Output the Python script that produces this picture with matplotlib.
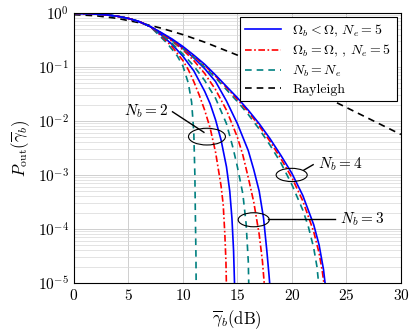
import numpy as np
import matplotlib.pyplot as plt
from matplotlib.patches import Ellipse

plt.rcParams['font.family'] = 'serif'
plt.rcParams['font.serif'] = ['cmr10']
plt.rcParams['mathtext.fontset'] = 'cm'
plt.rcParams['axes.formatter.use_mathtext'] = True

# values, log10 of P_out vs SNR in dB
snr_head = [0, 1, 2, 3, 4, 5, 6, 7]
log_head = [-0.005, -0.01, -0.02, -0.035, -0.06, -0.1, -0.16, -0.25]

# N_b = 2
x2_blue = [8, 9, 10, 11, 12, 12.5, 13, 13.5, 14, 14.3, 14.5, 14.65, 14.75]
y2_blue = [-0.4, -0.58, -0.8, -1.07, -1.45, -1.68, -1.98, -2.35, -2.85, -3.3, -3.8, -4.4, -5.1]
x2_red = [8, 9, 10, 10.5, 11, 11.5, 12, 12.5, 13, 13.5, 13.7, 13.85, 13.95, 14.0]
y2_red = [-0.42, -0.62, -0.88, -1.05, -1.27, -1.52, -1.8, -2.13, -2.58, -3.2, -3.55, -4.1, -4.6, -5.1]
x2_teal = [8, 8.5, 9, 9.5, 10, 10.5, 10.8, 11.0, 11.1, 11.15, 11.2, 11.22]
y2_teal = [-0.45, -0.55, -0.67, -0.8, -0.98, -1.3, -1.65, -2.2, -3.0, -3.8, -4.5, -5.1]

# N_b = 3
x3_blue = [8, 9, 10, 11, 12, 13, 14, 15, 16, 16.5, 17, 17.4, 17.7, 17.9, 18.0]
y3_blue = [-0.37, -0.5, -0.65, -0.83, -1.03, -1.27, -1.63, -2.05, -2.55, -2.9, -3.3, -3.8, -4.4, -4.85, -5.1]
x3_red = [8, 9, 10, 11, 12, 13, 14, 15, 15.5, 16, 16.5, 17, 17.3, 17.5]
y3_red = [-0.38, -0.52, -0.68, -0.88, -1.12, -1.42, -1.8, -2.3, -2.63, -3.05, -3.5, -4.1, -4.6, -5.1]
x3_teal = [8, 9, 10, 11, 12, 13, 14, 14.6, 15, 15.5, 15.8, 16.0, 16.05]
y3_teal = [-0.4, -0.56, -0.76, -0.98, -1.25, -1.58, -2.05, -2.5, -2.85, -3.35, -3.9, -4.6, -5.1]

# N_b = 4
x4_blue = [8, 9, 10, 11, 12, 13, 14, 15, 16, 17, 18, 19, 20, 21, 22, 22.5, 22.9, 23.1]
y4_blue = [-0.36, -0.48, -0.62, -0.78, -0.95, -1.15, -1.36, -1.57, -1.8, -2.05, -2.33, -2.64, -2.97, -3.38, -3.92, -4.3, -4.75, -5.1]
x4_red = [8, 9, 10, 11, 12, 13, 14, 15, 16, 17, 18, 19, 20, 21, 22, 22.5, 22.8, 23.0]
y4_red = [-0.37, -0.5, -0.64, -0.8, -0.97, -1.17, -1.38, -1.6, -1.83, -2.09, -2.38, -2.7, -3.05, -3.48, -4.05, -4.45, -4.8, -5.1]
x4_teal = [8, 9, 10, 11, 12, 13, 14, 15, 16, 17, 18, 19, 20, 21, 21.5, 22, 22.3, 22.5]
y4_teal = [-0.38, -0.51, -0.66, -0.82, -1.0, -1.2, -1.42, -1.64, -1.88, -2.15, -2.45, -2.78, -3.18, -3.65, -3.95, -4.35, -4.7, -5.1]

# Rayleigh
x_ray = [0, 2, 4, 6, 8, 10, 12, 14, 16, 18, 20, 22, 24, 26, 28, 30]
y_ray = [-0.03, -0.05, -0.1, -0.18, -0.28, -0.4, -0.54, -0.7, -0.86, -1.03, -1.22, -1.45, -1.65, -1.85, -2.05, -2.25]

labels = [r'$\Omega_b < \Omega$, $N_e = 5$', r'$\Omega_b = \Omega$, , $N_e = 5$',
          r'$N_b = N_e$', 'Rayleigh']


def curve(xs, ys):
    return np.array(snr_head + xs), 10.0 ** np.array(log_head + ys)


fig = plt.figure(figsize=(4.15, 3.34), dpi=100)
ax = fig.add_axes([0.178, 0.153, 0.788, 0.808])

lw = 1.2
ax.plot(x_ray, 10.0 ** np.array(y_ray), color='black', ls=(0, (4, 3)), lw=lw, label=labels[3])
for (xb, yb, xr, yr, xt, yt) in [(x2_blue, y2_blue, x2_red, y2_red, x2_teal, y2_teal),
                                 (x3_blue, y3_blue, x3_red, y3_red, x3_teal, y3_teal),
                                 (x4_blue, y4_blue, x4_red, y4_red, x4_teal, y4_teal)]:
    ax.plot(*curve(xt, yt), color='#008080', ls=(0, (4, 3)), lw=lw, label=labels[2])
    ax.plot(*curve(xr, yr), color='red', ls=(0, (4, 1.5, 1, 1.5)), lw=lw, label=labels[1])
    ax.plot(*curve(xb, yb), color='blue', ls='-', lw=lw, label=labels[0])

ax.set_yscale('log')
ax.set_xlim(0, 30)
ax.set_ylim(1e-5, 1)
ax.set_xticks([0, 5, 10, 15, 20, 25, 30])
ax.grid(True, which='major', color='#c8c8c8', lw=0.6)
ax.grid(True, which='minor', axis='y', color='#d8d8d8', lw=0.5)
ax.tick_params(labelsize=11, direction='in', which='both', length=0)
ax.set_xlabel(r'$\overline{\gamma}_b$(dB)', fontsize=12)
ax.set_ylabel(r'$P_{\mathrm{out}}(\overline{\gamma}_b)$', fontsize=12)

h, l = ax.get_legend_handles_labels()
order = [3, 2, 1, 0]
leg = ax.legend([h[i] for i in order], [l[i] for i in order], loc='upper right',
                fontsize=10, fancybox=False, edgecolor='black', framealpha=1,
                handlelength=2.6, borderpad=0.4, labelspacing=0.3, borderaxespad=0.3)
leg.get_frame().set_linewidth(0.8)

# annotation ellipses in axes fraction
for cx, cy, w, hh in [(0.407, 0.542, 0.113, 0.062), (0.666, 0.40, 0.095, 0.049),
                      (0.55, 0.234, 0.095, 0.052)]:
    ax.add_patch(Ellipse((cx, cy), w, hh, transform=ax.transAxes, fill=False,
                         edgecolor='black', lw=0.8, zorder=5))

ax.plot([9.05, 11.93], [10 ** -1.83, 10 ** -2.21], color='black', lw=1.0, zorder=5)
ax.text(6.6, 10 ** -1.81, r'$N_b = 2$', fontsize=11, ha='center', va='center')
ax.plot([21.1, 21.95], [10 ** -2.91, 10 ** -2.81], color='black', lw=1.0, zorder=5)
ax.text(24.4, 10 ** -2.81, r'$N_b = 4$', fontsize=11, ha='center', va='center')
ax.plot([17.83, 24.0], [10 ** -3.82, 10 ** -3.82], color='black', lw=1.0, zorder=5)
ax.text(26.4, 10 ** -3.82, r'$N_b = 3$', fontsize=11, ha='center', va='center')

fig.savefig('out.png', dpi=100)
